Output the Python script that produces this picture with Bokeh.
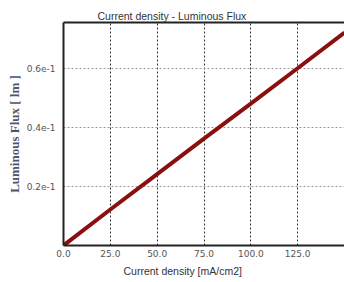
from bokeh.plotting import figure
from bokeh.models import LinearAxis, FixedTicker, Range1d, Title
from bokeh.embed import file_html
from bokeh.resources import INLINE

# data
current_density = [0, 25, 50, 75, 100, 125, 150]
luminous_flux = [0.0, 0.0122, 0.0242, 0.0362, 0.0481, 0.0601, 0.0722]
x_ticks = [0, 25, 50, 75, 100, 125]
x_tick_labels = ["0.0", "25.0", "50.0", "75.0", "100.0", "125.0"]
y_ticks = [0.02, 0.04, 0.06]
y_tick_labels = ["0.2e-1", "0.4e-1", "0.6e-1"]
title_text = "Current density - Luminous Flux"
x_title = "Current density [mA/cm2]"
y_title = "Luminous Flux [ lm ]"

p = figure(width=344, height=282, output_backend="svg", toolbar_location=None,
           x_range=Range1d(0, 150), y_range=Range1d(0, 0.0756),
           min_border_left=63, min_border_right=0, min_border_top=22, min_border_bottom=37)
p.outline_line_color = None
p.background_fill_color = "white"

p.title.text = title_text
p.title.align = "left"
p.title.offset = 34
p.title.text_font = "Liberation Sans"
p.title.text_font_size = "10.5px"
p.title.text_font_style = "normal"
p.title.text_color = "#333333"
p.title.standoff = 2

lbl_color = "#555555"
xa = p.xaxis[0]
xa.ticker = FixedTicker(ticks=x_ticks)
xa.major_label_overrides = {t: l for t, l in zip(x_ticks, x_tick_labels)}
xa.major_tick_out = 0
xa.major_tick_in = 0
xa.minor_tick_out = 0
xa.minor_tick_in = 0
xa.axis_line_color = "#222222"
xa.axis_line_width = 2
xa.major_label_text_font = "DejaVu Sans"
xa.major_label_text_font_size = "9px"
xa.major_label_text_color = lbl_color
xa.major_label_standoff = 4

p.add_layout(Title(text=x_title, align="left", offset=60, standoff=7,
                   text_font="Liberation Sans", text_font_size="10.5px",
                   text_font_style="normal", text_color="#333333"), "below")

ya = p.yaxis[0]
ya.ticker = FixedTicker(ticks=y_ticks)
ya.major_label_overrides = {t: l for t, l in zip(y_ticks, y_tick_labels)}
ya.major_tick_out = 0
ya.major_tick_in = 0
ya.minor_tick_out = 0
ya.minor_tick_in = 0
ya.axis_line_color = "#222222"
ya.axis_line_width = 2
ya.major_label_text_font = "DejaVu Sans"
ya.major_label_text_font_size = "9px"
ya.major_label_text_color = lbl_color
ya.major_label_standoff = 8
ya.axis_label = y_title
ya.axis_label_text_font = "Liberation Serif"
ya.axis_label_text_font_size = "13px"
ya.axis_label_text_font_style = "bold"
ya.axis_label_text_color = "#4a5570"
ya.axis_label_standoff = 2

top = LinearAxis(ticker=FixedTicker(ticks=[]), major_label_text_font_size="0px",
                 axis_line_color="#222222", axis_line_width=2,
                 major_tick_out=0, minor_tick_out=0)
p.add_layout(top, "above")

p.xgrid.ticker = FixedTicker(ticks=x_ticks[1:] + [150])
p.xgrid.grid_line_color = "#333333"
p.xgrid.grid_line_dash = "2 2"
p.xgrid.grid_line_width = 1
p.ygrid.ticker = FixedTicker(ticks=y_ticks)
p.ygrid.grid_line_color = "#999999"
p.ygrid.grid_line_dash = "2 2"
p.ygrid.grid_line_width = 1

p.line(current_density, luminous_flux, line_color="#8b0f0f", line_width=4)

open("out.html", "w").write(file_html(p, INLINE))
